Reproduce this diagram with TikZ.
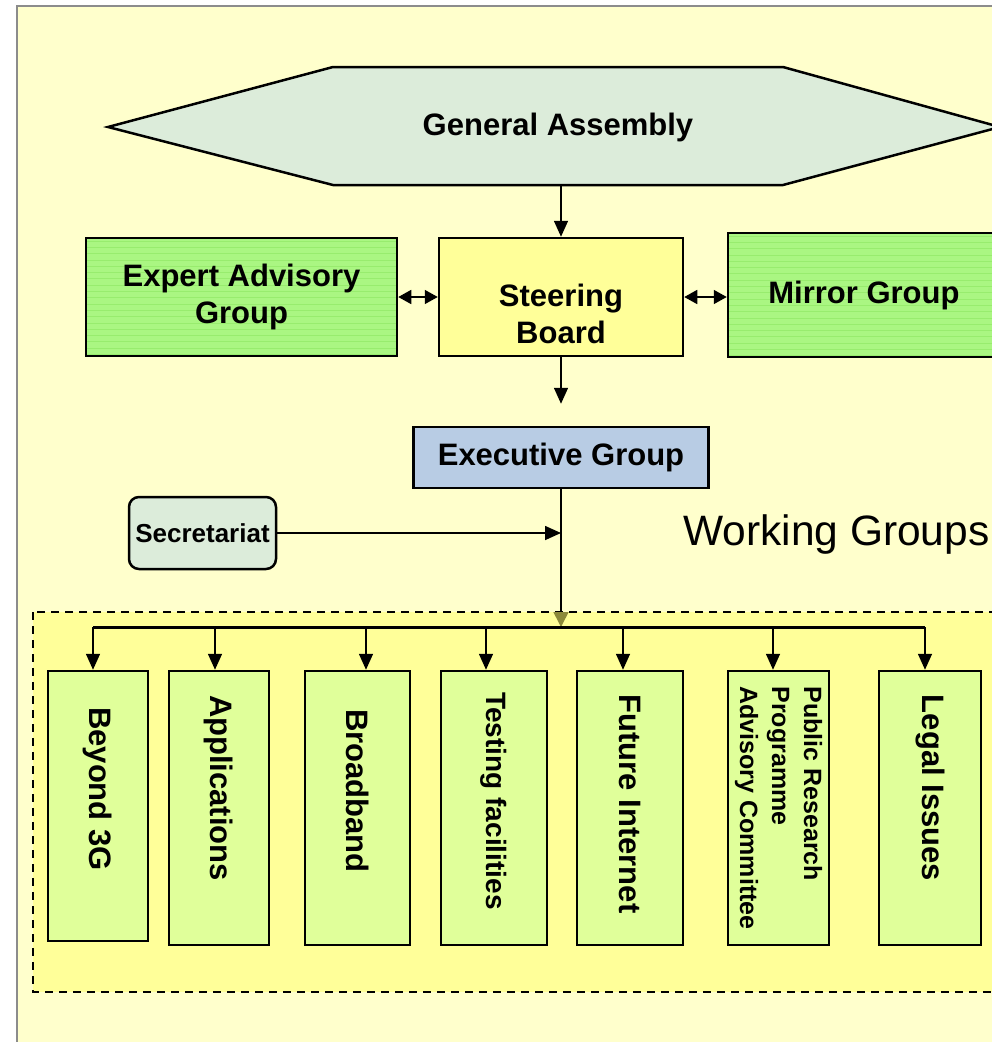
\documentclass[tikz,border=0pt]{standalone}
\usepackage{fontspec}
\setmainfont{Liberation Sans}
\usetikzlibrary{arrows.meta}

\definecolor{paper}{HTML}{FFFFCC}
\definecolor{wgarea}{HTML}{FFFF99}
\definecolor{hexcol}{HTML}{DCECDA}
\definecolor{advgreen}{HTML}{AAF682}
\definecolor{advstripe}{HTML}{98EC6E}
\definecolor{steercol}{HTML}{FFFF99}
\definecolor{execcol}{HTML}{B8CCE4}
\definecolor{wgcol}{HTML}{E0FF9A}
\definecolor{wgstripe}{HTML}{D4F892}
\definecolor{tipcol}{HTML}{8C8A3A}
\definecolor{framegray}{HTML}{8C8C8C}

\begin{document}
\begin{tikzpicture}[
						x=1pt, y=-1pt,
						big/.style = {font=\fontsize{31}{37}\selectfont\bfseries, align=center},
						abox/.style = {draw, line width=2.5pt, inner sep=2pt},
						stripes/.style = {path picture={
							\foreach \k in {3,9.3,...,140}
								\draw[#1, line width=0.7pt] ([yshift=-\k pt]path picture bounding box.north west) -- ([yshift=-\k pt]path picture bounding box.north east);}},
						greenbox/.style = {abox, big, fill=advgreen, stripes=advstripe},
						steerbox/.style = {abox, big, fill=steercol},
						execbox/.style = {abox, big, fill=execcol},
						secbox/.style = {abox, fill=hexcol, rounded corners=10pt, font=\fontsize{26}{30}\selectfont\bfseries},
						wgbox/.style = {abox, fill=wgcol, rotate=-90, minimum width=274pt, font=\fontsize{31}{37}\selectfont\bfseries},
						up/.style = {execute at end node={\hspace*{#1}}},
						arr/.style = {line width=1.6pt, -{Triangle[width=14pt,length=16pt]}},
						darr/.style = {line width=1.6pt, {Triangle[width=14pt,length=13pt]}-{Triangle[width=14pt,length=13pt]}}
					]
\path[use as bounding box, clip] (0,0) rectangle (992,1042);
\fill[paper] (17,6) rectangle (992,1042);
\draw[framegray, line width=2.5pt] (17,1042) -- (17,6) -- (992,6);

% top part
\draw[line width=2.5pt, fill=hexcol] (108,127) -- (333,67) -- (783,67) -- (1000,127) -- (783,185) -- (333,185) -- cycle;
\node[big, minimum height=118pt] (ga) at (558,127) {General Assembly};
\node[greenbox, minimum width=311pt, minimum height=118pt] (ea) at (241.5,297) {Expert Advisory\\Group};
\node[steerbox, minimum width=244pt, minimum height=118pt] (sb) at (561,297) {\rule{0pt}{56pt}Steering\\Board};
\node[greenbox, minimum width=272pt, minimum height=124pt] (mg) at (864,295) {Mirror Group};
\node[execbox, minimum width=295pt, minimum height=61pt] (eg) at (561,457.5) {Executive Group};
\node[secbox, minimum width=147pt, minimum height=72pt] (sec) at (202.5,533) {Secretariat};
\node[font=\fontsize{42.5}{50}\selectfont, anchor=west, inner sep=0pt] (wgt) at (683,535) {Working Groups};

\draw[arr] (sb.north |- ga.south) -- (sb.north);
\draw[darr] (ea) -- (sb);
\draw[darr] (sb.east) -- (sb.east -| mg.west);
\draw[arr, shorten >=22pt] (sb.south) -- (sb.south |- eg.north);
\coordinate (join) at (eg.south |- sec.east);
\draw[arr] (sec) -- (join);

% working groups
\draw[line width=2.2pt, dash pattern=on 8pt off 6pt, fill=wgarea] (33,612) rectangle (1010,992);
\node[wgbox, stripes=wgstripe, minimum width=270pt, minimum height=100pt, up=34pt] (b3g) at (98,806) {Beyond 3G};
\node[wgbox, stripes=wgstripe, minimum height=100pt, up=40pt] (app) at (219,808) {Applications};
\node[wgbox, stripes=wgstripe, minimum height=105pt, up=34pt] (bb) at (357.5,808) {Broadband};
\node[wgbox, stripes=wgstripe, minimum height=106pt, up=14pt, font=\fontsize{28}{32}\selectfont\bfseries] (tf) at (494,808) {Testing facilities};
\node[wgbox, stripes=wgstripe, minimum height=106pt, up=8pt] (fi) at (630,808) {Future Internet};
\node[wgbox, stripes=wgstripe, minimum height=101pt, font=\fontsize{25}{32}\selectfont\bfseries, align=left] (prp) at (778.5,808) {Public Research\\Programme\\Advisory Committee};
\node[wgbox, stripes=wgstripe, minimum height=102pt, up=40pt] (li) at (930,808) {Legal Issues};

\coordinate (busl) at (93,627);
\coordinate (busr) at (925,627);
\coordinate (busm) at (eg.south |- busl);
\draw[line width=1.6pt, -{Triangle[width=15pt,length=15pt,color=tipcol]}] (eg) -- (busm);
\draw[line width=3pt] (busl) -- (busr);
\foreach \n/\x in {b3g/93, app/215, bb/366, tf/486, fi/623, prp/773, li/925}{
	\coordinate (d\n) at (\x,627);
	\draw[arr] (d\n) -- (d\n |- \n.west);
}
\end{tikzpicture}
\end{document}
